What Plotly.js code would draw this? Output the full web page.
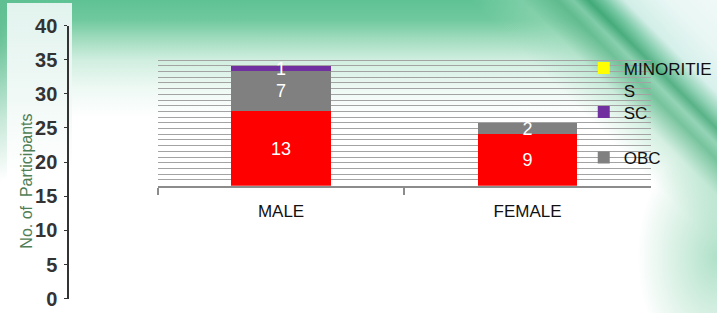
<!DOCTYPE html>
<html><head><meta charset="utf-8">
<script src="https://cdn.plot.ly/plotly-3.0.1.min.js"></script>
<style>
html,body{margin:0;padding:0;width:717px;height:313px;overflow:hidden;}
body{position:relative;background:
 linear-gradient(45deg, rgba(255,255,255,0) 76%, rgba(160,220,190,0.45) 81%, rgba(95,185,140,0.85) 84.5%, rgba(130,205,170,0.85) 86%, rgba(60,165,115,0.85) 87.5%, rgba(120,200,165,0.8) 89%, rgba(215,240,235,0.95) 91%, #e8f6f4 95%, #f0f9f8 100%),
 radial-gradient(ellipse 80px 120px at 100% 82%, rgba(110,200,155,0.55), rgba(255,255,255,0) 100%),
 radial-gradient(ellipse 40px 150px at 0% 10%, rgba(95,190,145,0.85), rgba(255,255,255,0) 100%),
 linear-gradient(180deg, #5ec294 0px, #70c99e 20px, #a3ddc0 40px, #d0eee0 60px, #eef9f4 88px, #ffffff 118px);
}
#panel{position:absolute;left:7px;top:3px;width:65px;height:310px;background:linear-gradient(180deg,#e2f3ee 0px,#eef8f5 80px,#ffffff 170px);}
#chart{position:absolute;left:0;top:0;width:717px;height:313px;}
</style>
</head>
<body>
<div id="panel"></div>
<div id="chart"></div>
<script>
// ---- data ----
const categories = ['MALE', 'FEMALE'];
const general = [13, 9];      // red
const obc = [7, 2];           // grey
const sc = [1, 0];            // purple
const minorities = [0, 0];    // yellow
const outerTickVals = [0, 5, 10, 15, 20, 25, 30, 35, 40];

function lbl(a) { return a.map(v => v > 0 ? String(v) : ''); }

const common = {
  type: 'bar', x: categories, xaxis: 'x', yaxis: 'y',
  textposition: 'inside', insidetextanchor: 'middle', constraintext: 'none', textangle: 0,
  textfont: {family: 'Liberation Sans, Arial, sans-serif', size: 18, color: '#ffffff'},
  hoverinfo: 'x+y+name'
};

const traces = [
  Object.assign({}, common, {name: 'GENERAL', y: general, text: lbl(general), marker: {color: '#ff0000', line: {width: 0}}, showlegend: false}),
  Object.assign({}, common, {name: 'OBC', y: obc, text: lbl(obc), marker: {color: '#808080', line: {width: 0}}, legend: 'legend3'}),
  Object.assign({}, common, {name: 'SC', y: sc, text: lbl(sc), marker: {color: '#7030a0', line: {width: 0}}, legend: 'legend2'}),
  Object.assign({}, common, {name: 'MINORITIE<br>S', y: minorities, text: lbl(minorities), marker: {color: '#ffff00', line: {width: 0}}, legend: 'legend'}),
  {type: 'scatter', mode: 'markers', x: [null], y: [null], xaxis: 'x2', yaxis: 'y2', showlegend: false, hoverinfo: 'skip'}
];

const legFont = {family: 'Liberation Sans, Arial, sans-serif', size: 17, color: '#111111'};
const legBase = {xanchor: 'left', yanchor: 'middle', valign: 'top', bgcolor: 'rgba(0,0,0,0)', borderwidth: 0, font: legFont};
const legX = 592/717;

const layout = {
  width: 717, height: 313,
  margin: {l: 0, r: 0, t: 0, b: 0},
  paper_bgcolor: 'rgba(0,0,0,0)', plot_bgcolor: 'rgba(0,0,0,0)',
  barmode: 'stack', bargap: 0.596,
  font: {family: 'Liberation Sans, Arial, sans-serif', color: '#111111'},
  xaxis: {
    domain: [160/717, 660/717], anchor: 'y', type: 'category', range: [-0.5, 1.5],
    tickson: 'boundaries', ticks: 'outside', ticklen: 7, tickwidth: 1.5, tickcolor: '#8c8c8c',
    showline: true, linecolor: '#8c8c8c', linewidth: 2, showgrid: false,
    tickfont: {family: 'Liberation Sans, Arial, sans-serif', size: 17, color: '#111111'},
    ticklabelstandoff: 9, fixedrange: true
  },
  yaxis: {
    domain: [(313-185.7)/313, (313-54)/313], anchor: 'x', range: [0, 23.05],
    tick0: 0, dtick: 1, showgrid: true, gridcolor: '#a3a3a3', gridwidth: 1.4,
    showticklabels: false, ticks: '', zeroline: false, showline: false, fixedrange: true
  },
  xaxis2: {domain: [70/717, 80/717], anchor: 'y2', visible: false, range: [0, 1]},
  yaxis2: {
    domain: [(313-298.7)/313, (313-25.5)/313], anchor: 'x2', side: 'left', range: [0, 40],
    tickvals: outerTickVals, showline: true, linecolor: '#333333', linewidth: 1.5,
    ticks: 'outside', ticklen: 3, tickwidth: 1, tickcolor: '#333333',
    showgrid: false, zeroline: false, ticklabelstandoff: 3,
    tickfont: {family: 'Liberation Sans Narrow, Arial Narrow, Liberation Sans, sans-serif', size: 20, color: '#333333', weight: 'bold'}
  },
  legend: Object.assign({}, legBase, {x: legX, y: (313-79.5)/313}),
  legend2: Object.assign({}, legBase, {x: legX, y: (313-112.5)/313}),
  legend3: Object.assign({}, legBase, {x: legX, y: (313-158)/313}),
  annotations: [{
    text: 'No. of  Participants', xref: 'paper', yref: 'paper',
    x: 26/717, y: (313-181)/313, xanchor: 'center', yanchor: 'middle',
    textangle: -90, showarrow: false,
    font: {family: 'Liberation Sans Narrow, Arial Narrow, Liberation Sans, sans-serif', size: 16, color: '#4f7d55'}
  }]
};

Plotly.newPlot('chart', traces, layout, {displayModeBar: false, responsive: false});
</script>
</body></html>
